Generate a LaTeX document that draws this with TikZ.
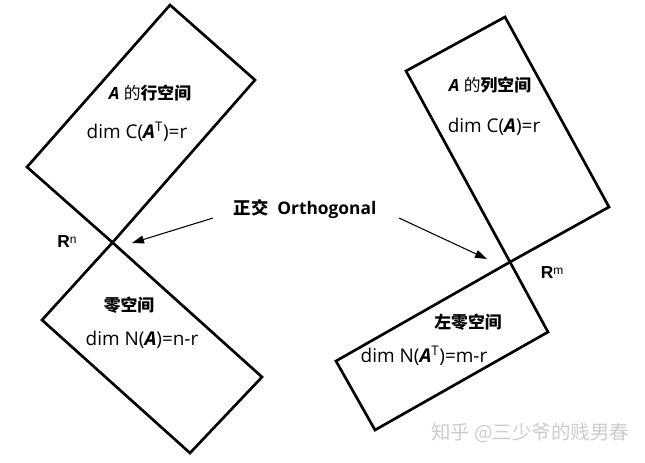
\documentclass[tikz,border=0pt]{standalone}
\usepackage{fontspec}
\setmainfont{Open Sans}
\newfontfamily\cjk{Noto Sans CJK SC}
\newfontfamily\arialf{Liberation Sans}
\usetikzlibrary{arrows.meta}
\newcommand{\mA}{\textbf{\textit{A}}}
\begin{document}
\begin{tikzpicture}[x=0.75pt,y=-0.75pt,
  box/.style={line width=2pt, line join=miter},
  title/.style={font=\fontsize{12.6}{14}\selectfont\bfseries, inner sep=0pt},
  dimtxt/.style={font=\fontsize{14.2}{16}\selectfont, inner sep=0pt},
  space/.style={font=\arialf\fontsize{13}{15}\selectfont, inner sep=0pt},
  conn/.style={line width=0.8pt, -{Triangle[length=9pt,width=6pt]}}]
\useasboundingbox (0,0) rectangle (645,462);
% crossing points
\coordinate (P) at (112.5,242.5);
\coordinate (Q) at (510,262);
% left: row space and null space
\draw[box] (170,5) -- (255,80) -- (P) -- (27,167) -- cycle;
\draw[box] (P) -- (262,377) -- (190,453) -- (42,320) -- cycle;
% right: column space and left null space
\draw[box] (406,71) -- (505,17) -- (609,207) -- (Q) -- cycle;
\draw[box] (Q) -- (548,332) -- (375,430) -- (336,361) -- cycle;
% texts
\node[title] (rowT) at (150,93) {\mA\ {\cjk\mdseries 的}{\cjk 行空间}};
\node[dimtxt] (rowD) at (137,132) {dim C(\mA\textsuperscript{T})=r};
\node[title] (nulT) at (129,305) {\cjk 零空间};
\node[dimtxt] (nulD) at (142,340) {dim N(\mA)=n-r};
\node[title] (colT) at (490,85) {\mA\ {\cjk\mdseries 的}{\cjk 列空间}};
\node[dimtxt] (colD) at (494,127) {dim C(\mA)=r};
\node[title] (lnT) at (468,322) {\cjk 左零空间};
\node[dimtxt] (lnD) at (424,356) {dim N(\mA\textsuperscript{T})=m-r};
\node[space] (Rn) at (67,242) {\textbf{R}{\fontsize{9}{10}\selectfont\raisebox{3.5pt}{n}}};
\node[space] (Rm) at (552,273) {\textbf{R}{\fontsize{9}{10}\selectfont\raisebox{3.5pt}{m}}};
\node[font=\fontsize{13}{15}\selectfont\bfseries, inner sep=0pt] (orth) at (305,209) {{\cjk 正交}\ \ Orthogonal};
% arrows
\coordinate (aL) at (213,218);
\coordinate (tL) at (132,243);
\coordinate (aR) at (399,218);
\coordinate (tR) at (487,259);
\draw[conn] (aL) -- (tL);
\draw[conn] (aR) -- (tR);
% watermark
\node[font=\cjk\fontsize{14.6}{16}\selectfont, text=black!20, inner sep=0pt] (wm) at (530,433) {知乎 @三少爷的贱男春};
\end{tikzpicture}
\end{document}
